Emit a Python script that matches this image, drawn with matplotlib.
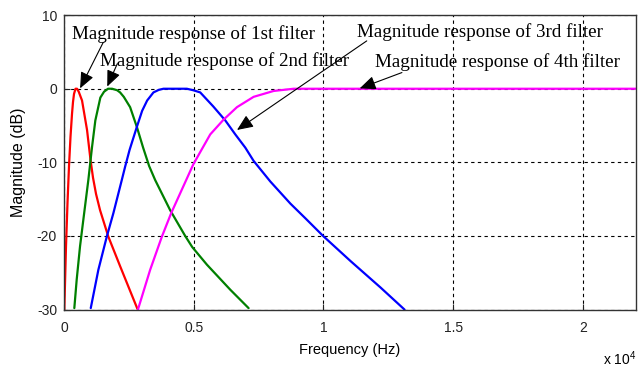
import matplotlib
matplotlib.use("Agg")
import matplotlib.pyplot as plt
from matplotlib.ticker import FixedLocator, FuncFormatter

# Magnitude responses (Hz, dB) of the four filters
f1 = [12, 77, 135, 193, 251, 309, 347, 386, 444, 502, 567, 695, 888, 1023,
      1119, 1235, 1390, 1710, 2162, 2829]
m1 = [-30.0, -21.4, -15.5, -10.5, -6.5, -3.4, -1.8, -0.7, 0.0, 0.0, -0.4,
      -1.6, -5.6, -9.7, -12.1, -14.3, -16.5, -20.1, -24.1, -29.9]

f2 = [398, 490, 618, 745, 938, 1081, 1208, 1401, 1544, 1698, 1853, 2046, 2162,
      2304, 2548, 2818, 3049, 3281, 3513, 4092, 4671, 4941, 5508, 6408, 7114]
m2 = [-29.8, -25.9, -21.4, -17.8, -12.4, -7.9, -4.3, -1.2, -0.4, 0.0, 0.0,
      -0.2, -0.5, -1.1, -2.5, -5.3, -8.0, -10.5, -12.4, -16.5, -20.0, -21.5,
      -23.9, -27.3, -29.8]

f3 = [1031, 1324, 1648, 1903, 2227, 2355, 2528, 2806, 3011, 3204, 3447, 3655,
      3833, 4736, 4979, 5250, 5751, 6215, 6601, 6987, 7307, 7951, 8724, 9303,
      9986, 11040, 12198, 13124]
m3 = [-29.8, -24.6, -20.1, -16.9, -12.4, -10.6, -8.3, -5.2, -3.0, -1.6, -0.5,
      -0.15, 0.0, 0.0, -0.2, -0.5, -2.4, -4.3, -6.2, -8.0, -9.8, -12.6, -15.6,
      -17.6, -20.0, -23.4, -27.0, -30.0]

f4 = [2849, 3320, 3771, 4130, 4709, 4979, 5250, 5636, 6149, 6666, 7307, 8079,
      8851, 9997, 22050]
m4 = [-30.0, -24.6, -20.1, -16.9, -12.4, -10.3, -8.6, -6.2, -4.2, -2.5, -1.1,
      -0.3, 0.0, 0.0, 0.0]

xticks = [0, 5000, 10000, 15000, 20000]
yticks = [-30, -20, -10, 0, 10]

plt.rcParams["font.family"] = "Liberation Sans"
plt.rcParams["axes.unicode_minus"] = False
plt.rcParams["mathtext.fontset"] = "custom"
plt.rcParams["mathtext.rm"] = "Liberation Sans"

fig = plt.figure(figsize=(6.4, 3.69), dpi=100)
ax = fig.add_axes([0.1, 0.161, 0.894, 0.798])

style = dict(lw=1.6, solid_joinstyle="round", solid_capstyle="round")
ax.plot(f1, m1, color="#ff0000", **style)
ax.plot(f2, m2, color="#008000", **style)
ax.plot(f3, m3, color="#0000ff", **style)
ax.plot(f4, m4, color="#ff00ff", **style)

ax.set_xlim(0, 22050)
ax.set_ylim(-30, 10)
ax.xaxis.set_major_locator(FixedLocator(xticks))
ax.yaxis.set_major_locator(FixedLocator(yticks))
ax.xaxis.set_major_formatter(FuncFormatter(lambda v, p: "%g" % (v / 1e4)))
ax.tick_params(direction="in", length=4, labelsize=10, colors="#222222")
ax.tick_params(axis="x", pad=8)
ax.tick_params(axis="y", pad=5)
ax.grid(True, color="black", linestyle=(0, (3, 3)), linewidth=0.8)
for s in ax.spines.values():
    s.set_color("#333333")
    s.set_linewidth(1.0)

ax.set_xlabel("Frequency (Hz)", fontsize=10.5)
ax.set_ylabel("Magnitude (dB)", fontsize=11.5)
ax.xaxis.set_label_coords(0.5, -0.114)
ax.yaxis.set_label_coords(-0.066, 0.5)
fig.text(0.942, 0.011, "x 10$^4$", fontsize=10, va="baseline")

# arrow annotations
serif = "Liberation Serif"
arrow = dict(arrowstyle="-|>,head_length=0.7,head_width=0.3", color="black",
             lw=0.8, shrinkA=0, shrinkB=0, mutation_scale=14)
ax.annotate("", xy=(620, 0.05), xytext=(1512, 6.3), arrowprops=arrow)
ax.annotate("", xy=(1667, 0.3), xytext=(2054, 3.4), arrowprops=arrow)
ax.annotate("", xy=(6667, -5.6), xytext=(11667, 6.5), arrowprops=arrow)
ax.annotate("", xy=(11395, 0.05), xytext=(13023, 2.2), arrowprops=arrow)
ax.text(310, 6.8, "Magnitude response of 1st filter", family=serif,
        fontsize=13.7, va="baseline")
ax.text(1395, 3.15, "Magnitude response of 2nd filter", family=serif,
        fontsize=13.7, va="baseline")
ax.text(11279, 7.0, "Magnitude response of 3rd filter", family=serif,
        fontsize=13.7, va="baseline")
ax.text(11977, 2.9, "Magnitude response of 4th filter", family=serif,
        fontsize=13.7, va="baseline")

fig.savefig("out.png", dpi=100)
